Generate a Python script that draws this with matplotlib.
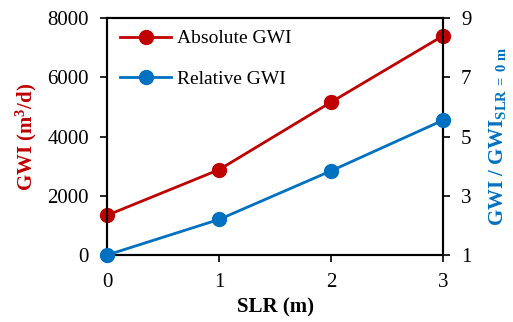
import matplotlib
matplotlib.use("Agg")
import matplotlib.pyplot as plt

slr = [0, 1, 2, 3]
absolute_gwi = [1340, 2880, 5160, 7400]
relative_gwi = [1.0, 2.2, 3.84, 5.55]
x_ticks = [0, 1, 2, 3]
left_ticks = [0, 2000, 4000, 6000, 8000]
right_ticks = [1, 3, 5, 7, 9]

RED = "#C00000"
BLUE = "#0070C0"

plt.rcParams['font.family'] = ['Liberation Serif', 'DejaVu Serif']
plt.rcParams['mathtext.fontset'] = 'custom'
plt.rcParams['mathtext.rm'] = 'Liberation Serif'
plt.rcParams['mathtext.bf'] = 'Liberation Serif:bold'
plt.rcParams['mathtext.it'] = 'Liberation Serif:italic'

fig = plt.figure(figsize=(5.13, 3.22), dpi=100)
ax = fig.add_axes([0.2086, 0.208, 0.655, 0.736])
ax2 = ax.twinx()

l1, = ax.plot(slr, absolute_gwi, color=RED, lw=2, marker='o', ms=10, clip_on=False, zorder=5, label='Absolute GWI')
l2, = ax2.plot(slr, relative_gwi, color=BLUE, lw=2, marker='o', ms=10, clip_on=False, zorder=5, label='Relative GWI')

ax.set_xlim(0, 3)
ax.set_ylim(0, 8000)
ax2.set_ylim(1, 9)
ax.set_xticks(x_ticks)
ax.set_yticks(left_ticks)
ax2.set_yticks(right_ticks)

for a in (ax, ax2):
    for s in a.spines.values():
        s.set_linewidth(1.5)
        s.set_color('black')
    a.tick_params(direction='out', width=1.2, length=5, labelsize=15, colors='black')
ax.tick_params(axis='x', pad=8)
ax.tick_params(axis='y', pad=8)
ax2.tick_params(axis='y', pad=8)

ax.set_xlabel('SLR (m)', fontsize=15, fontweight='bold', labelpad=4)
ax.set_ylabel(r'GWI (m$^\mathbf{3}$/d)', fontsize=15, fontweight='bold', color=RED, labelpad=6)
ax2.set_ylabel(r'GWI / GWI$_\mathbf{SLR\ =\ 0\ m}$', fontsize=15, fontweight='bold', color=BLUE, labelpad=11)

leg = ax2.legend(handles=[l1, l2], loc='upper left', frameon=False, fontsize=14,
                 handlelength=2.6, handletextpad=0.3, labelspacing=1.2,
                 borderaxespad=0.2, bbox_to_anchor=(0.005, 1.0))

fig.savefig('out.png', dpi=100)
